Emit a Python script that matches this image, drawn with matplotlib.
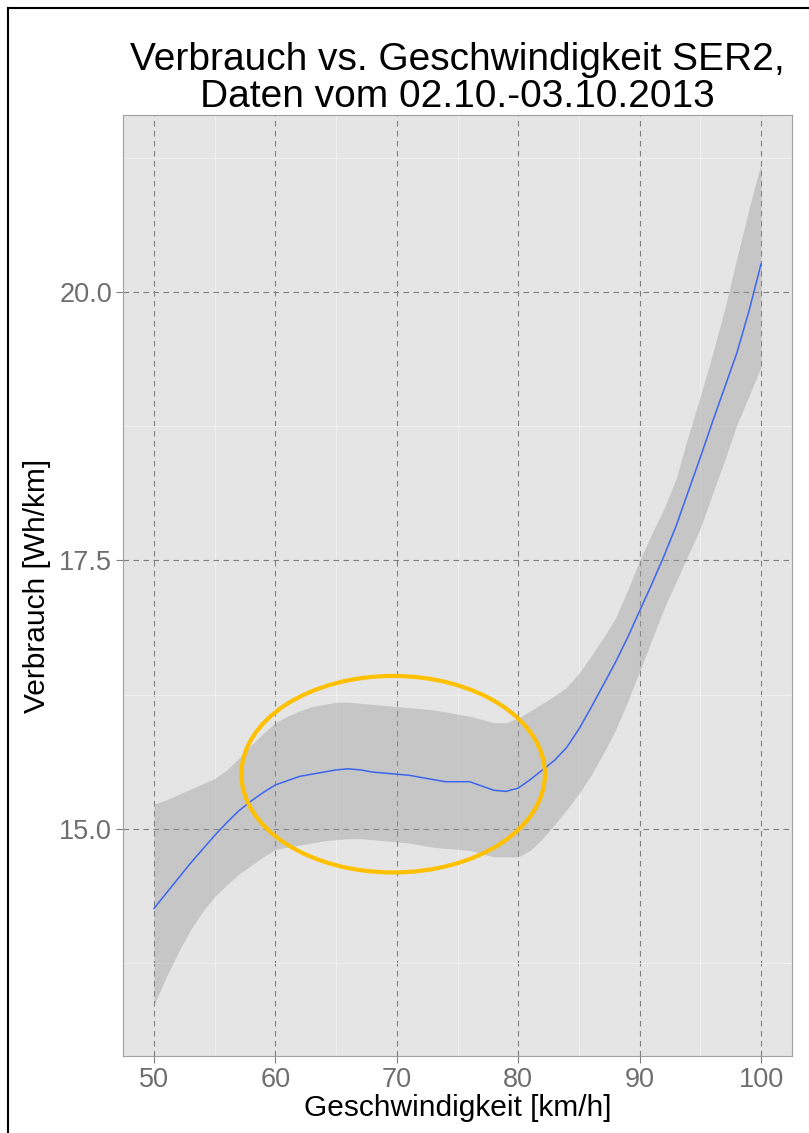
import matplotlib
matplotlib.use('Agg')
import matplotlib.pyplot as plt
from matplotlib.patches import Ellipse
from matplotlib.lines import Line2D
from matplotlib.ticker import MultipleLocator

plt.rcParams['font.family'] = ['Liberation Sans', 'DejaVu Sans']

# smoothed consumption (loess fit) with its confidence band, per km/h
speed = list(range(50, 101))
fit = [14.26, 14.40, 14.54, 14.68, 14.81, 14.94, 15.06, 15.17, 15.26, 15.34,
       15.41, 15.45, 15.49, 15.51, 15.53, 15.55, 15.56, 15.55, 15.53, 15.52,
       15.51, 15.50, 15.48, 15.46, 15.44, 15.44, 15.44, 15.40, 15.36, 15.35,
       15.38, 15.46, 15.55, 15.64, 15.76, 15.93, 16.13, 16.34, 16.55, 16.78,
       17.03, 17.28, 17.54, 17.82, 18.14, 18.46, 18.79, 19.11, 19.43, 19.82,
       20.26]
upper = [15.23, 15.27, 15.32, 15.37, 15.42, 15.47, 15.55, 15.66, 15.78, 15.89,
         15.99, 16.05, 16.10, 16.14, 16.16, 16.18, 16.18, 16.17, 16.16, 16.15,
         16.14, 16.13, 16.12, 16.11, 16.09, 16.07, 16.05, 16.02, 15.99, 15.99,
         16.03, 16.10, 16.17, 16.24, 16.32, 16.45, 16.61, 16.78, 16.96, 17.22,
         17.50, 17.75, 17.98, 18.26, 18.66, 19.03, 19.42, 19.84, 20.31, 20.77,
         21.20]
lower = [13.36, 13.62, 13.85, 14.06, 14.23, 14.37, 14.48, 14.58, 14.66, 14.74,
         14.81, 14.83, 14.85, 14.87, 14.89, 14.90, 14.91, 14.91, 14.90, 14.89,
         14.88, 14.87, 14.85, 14.83, 14.82, 14.81, 14.80, 14.77, 14.74, 14.74,
         14.74, 14.80, 14.91, 15.04, 15.18, 15.33, 15.50, 15.70, 15.92, 16.18,
         16.47, 16.76, 17.05, 17.30, 17.55, 17.80, 18.12, 18.43, 18.76, 19.03,
         19.30]

xticks = [50, 60, 70, 80, 90, 100]
yticks = [15.0, 17.5, 20.0]
ytick_labels = ['15.0', '17.5', '20.0']

W, H = 809, 1133
fig = plt.figure(figsize=(W / 100, H / 100), dpi=100)
ax = fig.add_axes([123 / W, 1 - 1056 / H, (792 - 123) / W, (1056 - 115) / H])
ax.set_facecolor('#E5E5E5')

ax.fill_between(speed, lower, upper, color='#999999', alpha=0.4, lw=0, zorder=2)
ax.plot(speed, fit, color='#3D66F0', lw=1.1, zorder=3)

# highlight the plateau between 60 and 80 km/h
ax.add_patch(Ellipse((69.7, 15.51), 25.0, 1.83, fill=False,
                     ec='#FFC000', lw=3, zorder=4))

ax.set_xlim(47.45, 102.55)
ax.set_ylim(12.886, 21.648)
ax.set_xticks(xticks)
ax.set_yticks(yticks)
ax.set_yticklabels(ytick_labels)
ax.xaxis.set_minor_locator(MultipleLocator(5))
ax.yaxis.set_minor_locator(MultipleLocator(1.25))

ax.set_axisbelow(True)
ax.grid(which='major', color='#7F7F7F', ls=(0, (5, 4)), lw=0.8)
ax.grid(which='minor', color='#F2F2F2', lw=0.6)
ax.tick_params(which='minor', length=0)
ax.tick_params(which='major', length=5, width=0.8, color='#7F7F7F',
               labelsize=19.5, labelcolor='#6E6E6E', pad=3)
for s in ax.spines.values():
    s.set_color('#A0A0A0')
    s.set_linewidth(0.8)

ax.set_xlabel('Geschwindigkeit [km/h]', fontsize=21.5, labelpad=1)
ax.set_ylabel('Verbrauch [Wh/km]', fontsize=21.5, labelpad=6)
ax.set_title('Verbrauch vs. Geschwindigkeit SER2,\nDaten vom 02.10.-03.10.2013',
             fontsize=28, linespacing=1.03, pad=5)

# frame around the figure (left and top edges)
fig.add_artist(Line2D([8 / W, 8 / W], [0, 1 - 8 / H], transform=fig.transFigure,
                      color='black', lw=1.5))
fig.add_artist(Line2D([8 / W, 1], [1 - 8 / H, 1 - 8 / H], transform=fig.transFigure,
                      color='black', lw=1.5))

fig.savefig('out.png', dpi=100)
